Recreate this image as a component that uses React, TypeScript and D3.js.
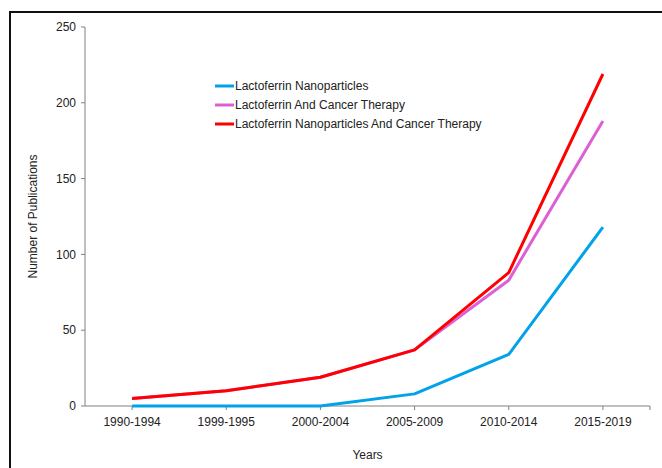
import { useEffect, useRef } from "react";
import * as d3 from "d3";

const periods = ["1990-1994", "1999-1995", "2000-2004", "2005-2009", "2010-2014", "2015-2019"];
const nanoparticles = [0, 0, 0, 8, 34, 118];
const cancerTherapy = [5, 10, 19, 37, 83, 188];
const nanoCancer = [5, 10, 19, 37, 88, 219];
const yTicks = [0, 50, 100, 150, 200, 250];

const seriesNames = [
  "Lactoferrin Nanoparticles",
  "Lactoferrin And Cancer Therapy",
  "Lactoferrin Nanoparticles And Cancer Therapy",
];
const seriesColors = ["#00a2e8", "#dd5fd6", "#ff0000"];

const App = () => {
  const ref = useRef<SVGSVGElement | null>(null);

  useEffect(() => {
    if (!ref.current) return;
    const svg = d3.select(ref.current);
    svg.selectAll("*").remove();

    const width = 662;
    const height = 468;
    const margin = { top: 27, right: 12, bottom: 62, left: 85 };
    const font = "Liberation Sans, Arial, sans-serif";

    // frame (only top and left edges visible)
    svg
      .append("path")
      .attr("d", `M10,${height} L10,12 L${width},12`)
      .attr("fill", "none")
      .attr("stroke", "#111")
      .attr("stroke-width", 2);

    const x = d3
      .scalePoint<string>()
      .domain(periods)
      .range([margin.left, width - margin.right])
      .padding(0.5);
    const y = d3
      .scaleLinear()
      .domain([0, 250])
      .range([height - margin.bottom, margin.top]);

    const axisColor = "#808080";
    const textColor = "#222";

    // y axis
    const gy = svg.append("g").attr("transform", `translate(${margin.left},0)`);
    gy.append("line")
      .attr("y1", y(0))
      .attr("y2", y(250))
      .attr("stroke", axisColor);
    yTicks.forEach(t => {
      gy.append("line")
        .attr("x1", -4)
        .attr("x2", 0)
        .attr("y1", y(t))
        .attr("y2", y(t))
        .attr("stroke", axisColor);
      gy.append("text")
        .attr("x", -9)
        .attr("y", y(t))
        .attr("dy", "0.35em")
        .attr("text-anchor", "end")
        .attr("font-family", font)
        .attr("font-size", 12)
        .attr("fill", textColor)
        .text(t);
    });

    // x axis
    const gx = svg.append("g").attr("transform", `translate(0,${y(0)})`);
    const xEnd = width - margin.right;
    gx.append("line")
      .attr("x1", margin.left)
      .attr("x2", xEnd)
      .attr("stroke", axisColor);
    [...periods.map(p => x(p) as number), xEnd].forEach(px => {
      gx.append("line")
        .attr("x1", px)
        .attr("x2", px)
        .attr("y1", 0)
        .attr("y2", 4)
        .attr("stroke", axisColor);
    });
    periods.forEach(p => {
      gx.append("text")
        .attr("x", x(p) as number)
        .attr("y", 20)
        .attr("text-anchor", "middle")
        .attr("font-family", font)
        .attr("font-size", 12)
        .attr("fill", textColor)
        .text(p);
    });

    // axis titles
    svg
      .append("text")
      .attr("x", (margin.left + xEnd) / 2)
      .attr("y", 459)
      .attr("text-anchor", "middle")
      .attr("font-family", font)
      .attr("font-size", 12)
      .attr("fill", textColor)
      .text("Years");
    svg
      .append("text")
      .attr("transform", `translate(37,${(y(0) + y(250)) / 2}) rotate(-90)`)
      .attr("text-anchor", "middle")
      .attr("font-family", font)
      .attr("font-size", 12)
      .attr("fill", textColor)
      .text("Number of Publications");

    // lines
    const line = d3
      .line<number>()
      .x((_, i) => x(periods[i]) as number)
      .y(d => y(d));

    [nanoparticles, cancerTherapy, nanoCancer].forEach((vals, i) => {
      svg
        .append("path")
        .datum(vals)
        .attr("fill", "none")
        .attr("stroke", seriesColors[i])
        .attr("stroke-width", 3)
        .attr("stroke-linejoin", "round")
        .attr("d", line);
    });

    // legend
    const lg = svg.append("g").attr("transform", "translate(215,86)");
    seriesNames.forEach((name, i) => {
      const row = lg.append("g").attr("transform", `translate(0,${i * 19})`);
      row
        .append("line")
        .attr("x1", 0)
        .attr("x2", 19)
        .attr("stroke", seriesColors[i])
        .attr("stroke-width", 3);
      row
        .append("text")
        .attr("x", 20)
        .attr("dy", "0.35em")
        .attr("font-family", font)
        .attr("font-size", 12)
        .attr("fill", textColor)
        .text(name);
    });
  }, []);

  return (
    <div style={{ position: "absolute", left: 0, top: 0 }}>
      <svg ref={ref} width={662} height={468} style={{ display: "block", background: "#fff" }} />
    </div>
  );
};

export default App;
